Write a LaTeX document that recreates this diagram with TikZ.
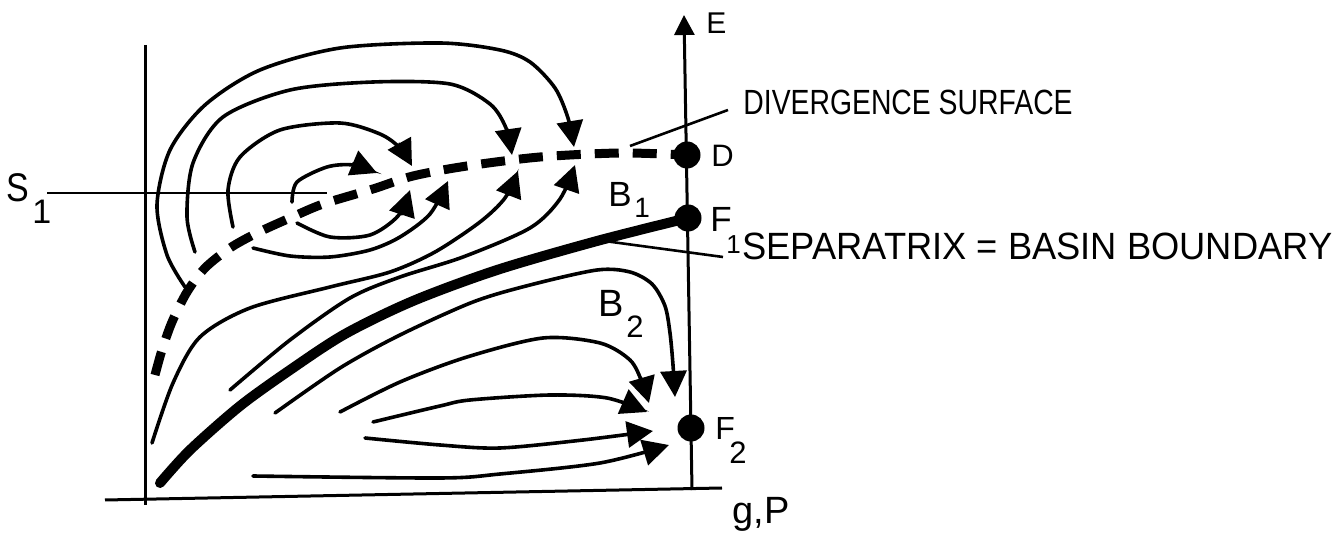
\documentclass[tikz,border=0pt]{standalone}
\usepackage{fontspec}
\setmainfont{Liberation Sans}
\setsansfont{Liberation Sans}
\usepackage{graphicx}
\usetikzlibrary{arrows.meta}
\newcommand\myfs[1]{\fontsize{#1}{#1}\selectfont}
\begin{document}
\begin{tikzpicture}[x=0.5pt,y=-0.5pt,
  flow/.style={line width=1.8pt, line cap=round, -{Triangle[length=13pt,width=13pt]}},
  axis/.style={line width=1.5pt},
  lead/.style={line width=1.3pt},
  sep/.style={line width=5pt, line cap=round},
  divg/.style={line width=4.5pt, dash pattern=on 12pt off 7pt},
  dot/.style={circle, fill, inner sep=0pt, minimum size=13.5pt},
  lbl/.style={inner sep=0pt, anchor=base west},
]
\useasboundingbox (0,0) rectangle (1344,533);

% axes
\coordinate (Lt) at (145,45);
\coordinate (Lb) at (145,505);
\coordinate (Bl) at (105,500);
\coordinate (Br) at (722,488);
\coordinate (Ebot) at (692,490);
\coordinate (Etop) at (684,15);
\draw[axis] (Lt) -- (Lb);
\draw[axis] (Bl) -- (Br);
\draw[axis,-{Triangle[length=10pt,width=10pt]}] (Ebot) -- (Etop);

% fixed points
\node[dot] (D) at (687,155) {};
\node[dot] (F1) at (688,218) {};
\node[dot] (F2) at (691,428) {};

% divergence surface (dashed)
\draw[divg] plot[smooth] coordinates {(155,375) (162,350) (172,322) (187,292) (205,268) (230,248) (257,233) (290,218) (323,204) (373,189) (413,176) (467,166) (540,157) (620,153) (687,155)};

% separatrix
\draw[sep] plot[smooth] coordinates {(160,483) (190,450) (240,406) (290,370) (345,334) (413,301) (497,270) (597,241) (688,218)};

% B1 flow lines (from above)
\draw[flow] plot[smooth] coordinates {(185,287) (167,255) (157,205) (170,150) (205,105) (260,70) (340,48) (440,43) (500,50) (530,62) (555,88) (568,118) (574,147)};
\draw[flow] plot[smooth] coordinates {(195,252) (187,217) (193,163) (223,117) (290,90) (373,82) (450,84) (490,104) (506,128) (512,155)};
\draw[flow] plot[smooth] coordinates {(233,227) (228,190) (240,157) (280,130) (340,123) (380,134) (400,148) (412,166)};
\draw[flow] plot[smooth] coordinates {(292,202) (297,182) (327,167) (353,165) (377,173)};
% B1 flow lines (from below)
\draw[flow] plot[smooth] coordinates {(297,223) (330,237) (370,235) (398,216) (410,190)};
\draw[flow] plot[smooth] coordinates {(253,248) (290,256) (330,257) (370,250) (400,237) (430,214) (448,181)};
\draw[flow] plot[smooth] coordinates {(152,443) (173,383) (200,337) (250,308) (330,287) (390,272) (435,252) (480,222) (505,198) (518,171)};
\draw[flow] plot[smooth] coordinates {(230,390) (290,340) (350,298) (400,277) (463,257) (530,228) (560,199) (575,165)};

% B2 flow lines
\draw[flow] plot[smooth] coordinates {(275,413) (340,368) (400,335) (473,302) (530,285) (597,270) (630,272) (652,284) (665,306) (670,333) (673,365) (675,397)};
\draw[flow] plot[smooth] coordinates {(340,412) (400,382) (467,357) (543,338) (600,343) (630,360) (642,382) (649,403)};
\draw[flow] plot[smooth] coordinates {(373,422) (440,406) (470,400) (550,395) (607,398) (647,412)};
\draw[flow] plot[smooth] coordinates {(365,438) (440,445) (500,448) (583,440) (653,431)};
\draw[flow] plot[smooth] coordinates {(253,476) (440,478) (500,474) (600,463) (669,445)};

% leader lines
\coordinate (S1end) at (327,193);
\coordinate (S1start) at (47,193);
\draw[lead] (S1start) -- (S1end);
\coordinate (DVa) at (630,146);
\coordinate (DVb) at (728,110);
\draw[lead] (DVa) -- (DVb);
\coordinate (SPa) at (597,240);
\coordinate (SPb) at (723,257);
\draw[lead] (SPa) -- (SPb);

% labels
\node[lbl,font=\myfs{20}] (S) at (6,202) {\scalebox{0.85}[1]{S}};
\node[lbl,font=\myfs{17}] (S1) at (32,224) {1};
\node[lbl,font=\myfs{15}] (E) at (706,34) {E};
\node[lbl,font=\myfs{15.5}] (Dl) at (711,167) {D};
\node[lbl,font=\myfs{17.5}] (B1) at (608,207) {B};
\node[lbl,font=\myfs{14}] (B1s) at (634,218) {1};
\node[lbl,font=\myfs{17.5}] (F1l) at (710,232) {F};
\node[lbl,font=\myfs{13}] (F1s) at (726,254) {1};
\node[lbl,font=\myfs{19}] (B2) at (598,317) {B};
\node[lbl,font=\myfs{15.5}] (B2s) at (626,338) {2};
\node[lbl,font=\myfs{16}] (F2l) at (715,440) {F};
\node[lbl,font=\myfs{15.5}] (F2s) at (729,464) {2};
\node[lbl,font=\myfs{19}] (gP) at (732,524) {g,P};
\node[lbl,font=\myfs{17.5}] (DS) at (743,115) {\scalebox{0.81}[1]{DIVERGENCE SURFACE}};
\node[lbl,font=\myfs{19}] (SB) at (742,260) {\scalebox{0.955}[1]{SEPARATRIX = BASIN BOUNDARY}};
\end{tikzpicture}
\end{document}
